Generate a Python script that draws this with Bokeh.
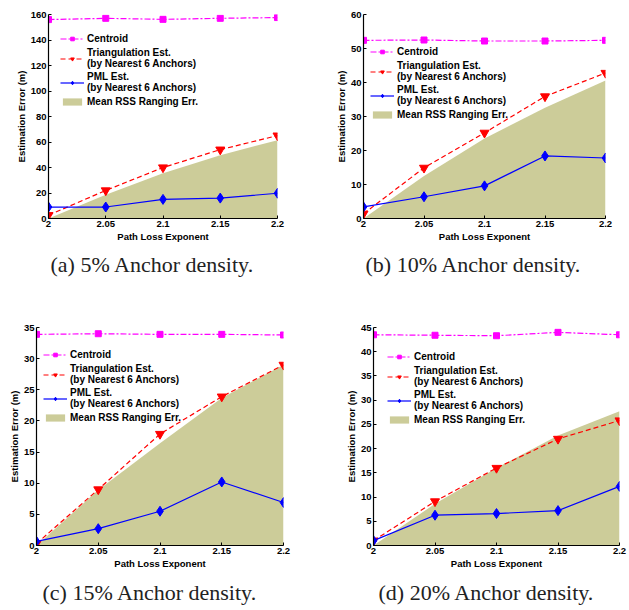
from bokeh.plotting import figure
from bokeh.models import Range1d, FixedTicker, Legend, LegendItem, CustomJSTickFormatter
from bokeh.layouts import column, row
from bokeh.embed import file_html
from bokeh.resources import INLINE

# ---- data -----------------------------------------------------------------
path_loss = [2.0, 2.05, 2.1, 2.15, 2.2]

centroid_a = [156.0, 157.0, 156.2, 157.0, 157.6]
triang_a = [2.6, 22.0, 40.0, 54.0, 65.0]
pml_a = [9.0, 9.0, 15.0, 16.0, 19.8]
rss_a = [0.0, 18.7, 35.4, 49.7, 61.4]

centroid_b = [52.4, 52.5, 52.2, 52.2, 52.4]
triang_b = [1.4, 14.9, 25.2, 35.9, 42.8]
pml_b = [3.4, 6.4, 9.6, 18.4, 17.8]
rss_b = [0.0, 12.5, 23.5, 32.6, 40.6]

centroid_c = [33.9, 34.0, 33.9, 33.9, 33.8]
triang_c = [0.3, 9.0, 17.9, 23.9, 29.0]
pml_c = [0.65, 2.7, 5.5, 10.2, 6.9]
rss_c = [0.0, 8.9, 16.4, 23.7, 29.0]

centroid_d = [43.5, 43.4, 43.3, 44.0, 43.5]
triang_d = [1.0, 9.1, 16.0, 22.0, 25.8]
pml_d = [1.0, 6.25, 6.6, 7.2, 12.2]
rss_d = [0.0, 8.6, 16.0, 22.7, 27.7]

legend_labels = ["Centroid",
                 "Triangulation Est.\n(by Nearest 6 Anchors)",
                 "PML Est.\n(by Nearest 6 Anchors)",
                 "Mean RSS Ranging Err."]
captions = ["(a) 5% Anchor density.", "(b) 10% Anchor density.",
            "(c) 15% Anchor density.", "(d) 20% Anchor density."]
y_max = [160, 60, 35, 45]
y_step = [20, 10, 5, 5]

# ---- styling ----------------------------------------------------------------
SANS = "Liberation Sans"
SERIF = "Liberation Serif"
FILL = "#CCCC99"

# (width, height, left, right, top, bottom, caption offset, caption standoff, legend x, legend bottom)
layouts = [
    (310, 303, 48, 33, 13, 85, 2, 10, 12, 110),
    (319, 303, 53, 24, 14, 85, 2, 10, 7, 97),
    (310, 307, 36, 27, 24, 65, 6, 12, 7, 121),
    (319, 307, 63, 10, 23, 65, 5, 12, 14, 119),
]

series = [
    (centroid_a, triang_a, pml_a, rss_a),
    (centroid_b, triang_b, pml_b, rss_b),
    (centroid_c, triang_c, pml_c, rss_c),
    (centroid_d, triang_d, pml_d, rss_d),
]


def make_panel(i):
    w, h, bl, br, bt, bb, cap_off, cap_sd, lx, lbot = layouts[i]
    cen, tri, pml, rss = series[i]
    p = figure(width=w, height=h, output_backend="svg", toolbar_location=None,
               x_range=Range1d(2.0, 2.2), y_range=Range1d(0, y_max[i]),
               min_border_left=bl, min_border_right=br,
               min_border_top=bt, min_border_bottom=bb,
               title=captions[i], title_location="below")
    p.outline_line_color = None
    p.grid.visible = False
    p.background_fill_color = "white"
    p.border_fill_color = "white"

    p.title.text_font = SERIF
    p.title.text_font_size = "22px"
    p.title.text_font_style = "normal"
    p.title.text_color = "#222222"
    p.title.align = "left"
    p.title.offset = cap_off
    p.title.standoff = cap_sd

    for ax in (p.xaxis[0], p.yaxis[0]):
        ax.axis_line_color = "black"
        ax.axis_line_width = 1.2
        ax.major_tick_in = 3
        ax.major_tick_out = 0
        ax.major_tick_line_color = "black"
        ax.minor_tick_line_color = None
        ax.major_label_text_font = SANS
        ax.major_label_text_font_style = "bold"
        ax.major_label_text_font_size = "9.5px"
        ax.major_label_text_color = "black"
        ax.axis_label_text_font = SANS
        ax.axis_label_text_font_style = "bold"
        ax.axis_label_text_font_size = "9.5px"
        ax.axis_label_text_color = "black"
        ax.major_label_standoff = 2
        ax.axis_label_standoff = 1

    p.xaxis.ticker = FixedTicker(ticks=path_loss)
    p.xaxis.formatter = CustomJSTickFormatter(
        code="return tick.toFixed(2).replace(/0+$/, '').replace(/\\.$/, '');")
    p.xaxis.axis_label = "Path Loss Exponent"
    p.yaxis.ticker = FixedTicker(ticks=list(range(0, y_max[i] + 1, y_step[i])))
    p.yaxis.axis_label = "Estimation Error (m)"

    r_area = p.varea(x=path_loss, y1=0, y2=rss, fill_color=FILL, fill_alpha=1.0)

    l_cen = p.line(path_loss, cen, line_color="#FF00FF", line_width=1.2,
                   line_dash="6 2 2 2")
    s_cen = p.scatter(path_loss, cen, marker="square", size=6,
                      fill_color="#FF00FF", line_color="#FF00FF")

    l_tri = p.line(path_loss, tri, line_color="#FF0000", line_width=1.2,
                   line_dash="5 3")
    s_tri = p.scatter(path_loss, tri, marker="inverted_triangle", size=9,
                      fill_color="#FF0000", line_color="#FF0000")

    l_pml = p.line(path_loss, pml, line_color="#0000FF", line_width=1.2)
    s_pml = p.scatter(path_loss, pml, marker="diamond", size=10,
                      fill_color="#0000FF", line_color="#0000FF")

    legend = Legend(items=[
        LegendItem(label=legend_labels[0], renderers=[l_cen, s_cen]),
        LegendItem(label=legend_labels[1], renderers=[l_tri, s_tri]),
        LegendItem(label=legend_labels[2], renderers=[l_pml, s_pml]),
        LegendItem(label=legend_labels[3], renderers=[r_area]),
    ], location=(lx, lbot))
    legend.background_fill_alpha = 0
    legend.border_line_color = None
    legend.padding = 0
    legend.margin = 0
    legend.spacing = 2
    legend.glyph_width = 24
    legend.glyph_height = 9
    legend.label_height = 13
    legend.label_standoff = 3
    legend.label_text_font = SANS
    legend.label_text_font_style = "bold"
    legend.label_text_font_size = "10px"
    legend.label_text_color = "black"
    p.add_layout(legend, "center")
    return p


panels = [make_panel(i) for i in range(4)]
layout = column(row(panels[0], panels[1]), row(panels[2], panels[3]))

open("out.html", "w").write(file_html(layout, INLINE))
